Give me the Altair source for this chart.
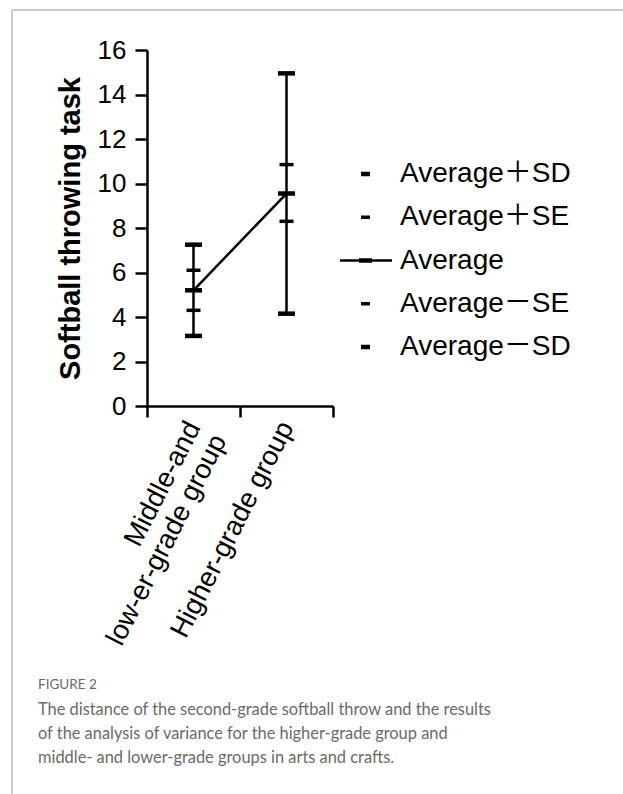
import altair as alt
import pandas as pd

groups = ["Middle-and\nlow-er-grade group", "Higher-grade group"]
mean = [5.2, 9.55]
se_hi = [6.1, 10.85]
se_lo = [4.3, 8.3]
sd_hi = [7.25, 14.95]
sd_lo = [3.15, 4.15]

legend_labels = ["Average＋SD", "Average＋SE", "Average", "Average－SE", "Average－SD"]
caption_head = "FIGURE 2"
caption_lines = [
    "The distance of the second-grade softball throw and the results",
    "of the analysis of variance for the higher-grade group and",
    "middle- and lower-grade groups in arts and crafts.",
]

FONT = "Liberation Sans, Arial, Noto Sans CJK SC"
W, H = 186, 356
LEFT, TOP = 147, 50

df = pd.DataFrame({"group": groups, "mean": mean, "se_hi": se_hi, "se_lo": se_lo,
                   "sd_hi": sd_hi, "sd_lo": sd_lo})

x_enc = alt.X("group:N", sort=groups,
              scale=alt.Scale(paddingInner=0, paddingOuter=0),
              axis=alt.Axis(title=None, labelAngle=297, labelAlign="right", labelBaseline="middle",
                            labelFontSize=27.5, labelFont=FONT, labelColor="black",
                            labelExpr="split(datum.label, '\\n')", labelLineHeight=29,
                            labelPadding=6, labelLimit=600,
                            tickBand="extent", tickSize=11, tickWidth=2.5, tickColor="black",
                            domainColor="black", domainWidth=2.5))
y_scale = alt.Scale(domain=[0, 16], nice=False)
y_axis = alt.Axis(title="Softball throwing task", titleFontSize=29, titleFont=FONT,
                  titleFontWeight="bold", titleColor="black", titlePadding=12,
                  values=list(range(0, 17, 2)), labelFontSize=26, labelFont=FONT,
                  labelColor="black", labelPadding=9, tickSize=12, tickWidth=2.5,
                  tickColor="black", domainColor="black", domainWidth=2.5, grid=False)

base = alt.Chart(df)
vbar = base.mark_rule(color="black", strokeWidth=2.5).encode(
    x=x_enc, y=alt.Y("sd_lo:Q", scale=y_scale, axis=y_axis), y2="sd_hi:Q")
line = base.mark_line(color="black", strokeWidth=2.5).encode(
    x=alt.X("group:N", sort=groups), y="mean:Q")

def cap(field, size, thick):
    return base.mark_tick(color="black", size=size, thickness=thick, opacity=1).encode(
        x=alt.X("group:N", sort=groups), y=f"{field}:Q")

main = alt.layer(vbar, line, cap("sd_hi", 17, 4.5), cap("sd_lo", 17, 4.5),
                 cap("se_hi", 14, 3.5), cap("se_lo", 14, 3.5), cap("mean", 17, 4.5))

# legend
leg_df = pd.DataFrame({"label": legend_labels,
                       "w": [4.5, 3.5, 0, 3.5, 4.5]})
leg_y = alt.Y("label:N", sort=legend_labels,
              scale=alt.Scale(type="point", domain=legend_labels, range=[174 - TOP, 347 - TOP], padding=0),
              axis=None)
leg_text = alt.Chart(leg_df).mark_text(align="left", baseline="middle", fontSize=28, font=FONT,
                                       color="black").encode(
    x=alt.value(400 - LEFT), y=leg_y, text="label:N")
leg_sym = alt.Chart(leg_df).transform_filter("datum.w > 0").mark_rule(color="black").encode(
    x=alt.value(361 - LEFT), x2=alt.value(370 - LEFT), y=leg_y,
    strokeWidth=alt.StrokeWidth("w:Q", scale=None))
leg_avg_line = alt.Chart(leg_df).transform_filter("datum.label == 'Average'").mark_rule(
    color="black", strokeWidth=2.5).encode(
    x=alt.value(340 - LEFT), x2=alt.value(392 - LEFT), y=leg_y)
leg_avg_mark = alt.Chart(leg_df).transform_filter("datum.label == 'Average'").mark_rule(
    color="black", strokeWidth=4.5).encode(
    x=alt.value(359 - LEFT), x2=alt.value(372 - LEFT), y=leg_y)
legend = alt.layer(leg_text, leg_sym, leg_avg_line, leg_avg_mark)

# caption and frame
cap_df = pd.DataFrame({"line": caption_lines, "i": list(range(len(caption_lines)))})
cap_head = alt.Chart(pd.DataFrame({"t": [caption_head]})).mark_text(
    align="left", baseline="middle", fontSize=13.5, font="Lato", color="#6a6a6a").encode(
    x=alt.value(38 - LEFT), y=alt.value(685 - TOP), text="t:N")
cap_text = alt.Chart(cap_df).mark_text(
    align="left", baseline="middle", fontSize=16.4, font="Lato", color="#6a6a6a").encode(
    x=alt.value(38 - LEFT),
    y=alt.Y("i:O", scale=alt.Scale(type="point", domain=[0, 1, 2], range=[710 - TOP, 758 - TOP], padding=0), axis=None),
    text="line:N")
frame_df = pd.DataFrame({"k": [0]})
frame_left = alt.Chart(frame_df).mark_rule(color="#bbbbbb", strokeWidth=1.5).encode(
    x=alt.value(12 - LEFT), y=alt.value(10 - TOP), y2=alt.value(794 - TOP))
frame_top = alt.Chart(frame_df).mark_rule(color="#bbbbbb", strokeWidth=1.5).encode(
    x=alt.value(12 - LEFT), x2=alt.value(623 - LEFT), y=alt.value(10 - TOP))
caption = alt.layer(cap_head, cap_text, frame_left, frame_top)

chart = alt.layer(main, legend, caption).resolve_scale(y="independent").properties(
    width=W, height=H,
    autosize=alt.AutoSizeParams(type="none"),
    padding={"left": LEFT, "top": TOP, "right": 623 - LEFT - W, "bottom": 794 - TOP - H},
    background="white",
).configure_view(stroke=None)

chart.save("out.html", embed_options={"renderer": "svg", "actions": False})
